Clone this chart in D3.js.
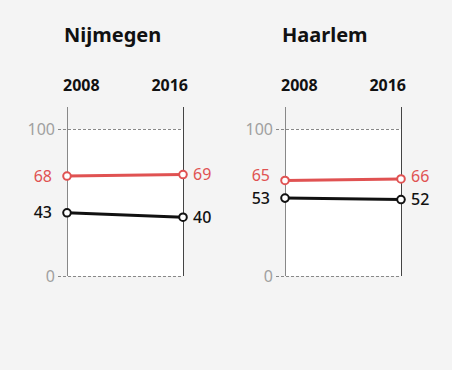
<!DOCTYPE html>
<html>
<head>
<script src="https://d3js.org/d3.v7.min.js"></script>
<style>
  body {margin: 0; background: #f4f4f4; font-family: "Noto Sans", sans-serif;}
  svg {display: block;}
</style>
</head>
<body>
<svg id="chart" width="452" height="370"></svg>
<script>
var cities = ["Nijmegen", "Haarlem"];
var years = ["2008", "2016"];
var redValues = [[68, 69], [65, 66]];
var blackValues = [[43, 40], [53, 52]];
var yTicks = [0, 100];

var svg = d3.select("#chart");
svg.append("rect").attr("width", 452).attr("height", 370).attr("fill", "#f4f4f4");

var panelLeft = [67, 285],
    panelWidth = 116;

var y = d3.scaleLinear().domain([0, 100]).range([276, 129]);

cities.forEach(function(city, c) {
  var g = svg.append("g").attr("transform", "translate(" + panelLeft[c] + ",0)");
  var x = d3.scalePoint().domain(years).range([0, panelWidth]);

  g.append("text")
    .attr("x", -3).attr("y", 42)
    .attr("font-size", 20).attr("font-weight", "bold").attr("fill", "#111")
    .text(city);

  g.append("rect")
    .attr("x", 0).attr("y", y(100))
    .attr("width", panelWidth).attr("height", y(0) - y(100))
    .attr("fill", "#fff");

  // dashed gridlines
  g.selectAll(".grid").data(yTicks).enter().append("line")
    .attr("x1", -9).attr("x2", panelWidth)
    .attr("y1", function(d) { return y(d) + 0.5; })
    .attr("y2", function(d) { return y(d) + 0.5; })
    .attr("stroke", "#888").attr("stroke-dasharray", "3,2");

  g.selectAll(".tick").data(yTicks).enter().append("text")
    .attr("x", -12).attr("y", function(d) { return y(d); })
    .attr("dy", "0.35em").attr("text-anchor", "end")
    .attr("font-size", 16).attr("fill", "#a0a0a0")
    .text(function(d) { return d; });

  // vertical year axes
  g.selectAll(".yr").data(years).enter().append("line")
    .attr("x1", function(d) { return x(d) + 0.5; })
    .attr("x2", function(d) { return x(d) + 0.5; })
    .attr("y1", 107).attr("y2", y(0))
    .attr("stroke", function(d, i) { return i === 0 ? "#888" : "#444"; });

  g.selectAll(".yrlab").data(years).enter().append("text")
    .attr("x", function(d, i) { return i === 0 ? x(d) - 4 : x(d) + 5; }).attr("y", 91)
    .attr("text-anchor", function(d, i) { return i === 0 ? "start" : "end"; })
    .attr("font-size", 16).attr("font-weight", "bold").attr("fill", "#111")
    .text(function(d) { return d; });

  var series = [
    {vals: blackValues[c], color: "#111"},
    {vals: redValues[c], color: "#e05252"}
  ];

  // keep the black label in place, push the red one up if they collide
  var labelY = years.map(function(yr, i) {
    var r = y(redValues[c][i]), b = y(blackValues[c][i]);
    if (b - r < 23) r = b - 23;
    return {red: r, black: b};
  });

  series.forEach(function(s, k) {
    var pts = years.map(function(yr, i) { return [x(yr), y(s.vals[i])]; });
    g.append("path")
      .attr("d", d3.line()(pts))
      .attr("fill", "none").attr("stroke", s.color).attr("stroke-width", 3);
    g.selectAll(".pt" + k).data(years).enter().append("circle")
      .attr("cx", function(d) { return x(d); })
      .attr("cy", function(d, i) { return y(s.vals[i]); })
      .attr("r", 3.8).attr("fill", "#fff")
      .attr("stroke", s.color).attr("stroke-width", 2);
    g.selectAll(".lab" + k).data(years).enter().append("text")
      .attr("x", function(d, i) { return i === 0 ? -15 : x(d) + 10; })
      .attr("y", function(d, i) { return k === 1 ? labelY[i].red : labelY[i].black; })
      .attr("dy", "0.35em")
      .attr("text-anchor", function(d, i) { return i === 0 ? "end" : "start"; })
      .attr("font-size", 16).attr("fill", s.color)
      .attr("font-weight", k === 0 ? 500 : 400)
      .text(function(d, i) { return s.vals[i]; });
  });
});
</script>
</body>
</html>
